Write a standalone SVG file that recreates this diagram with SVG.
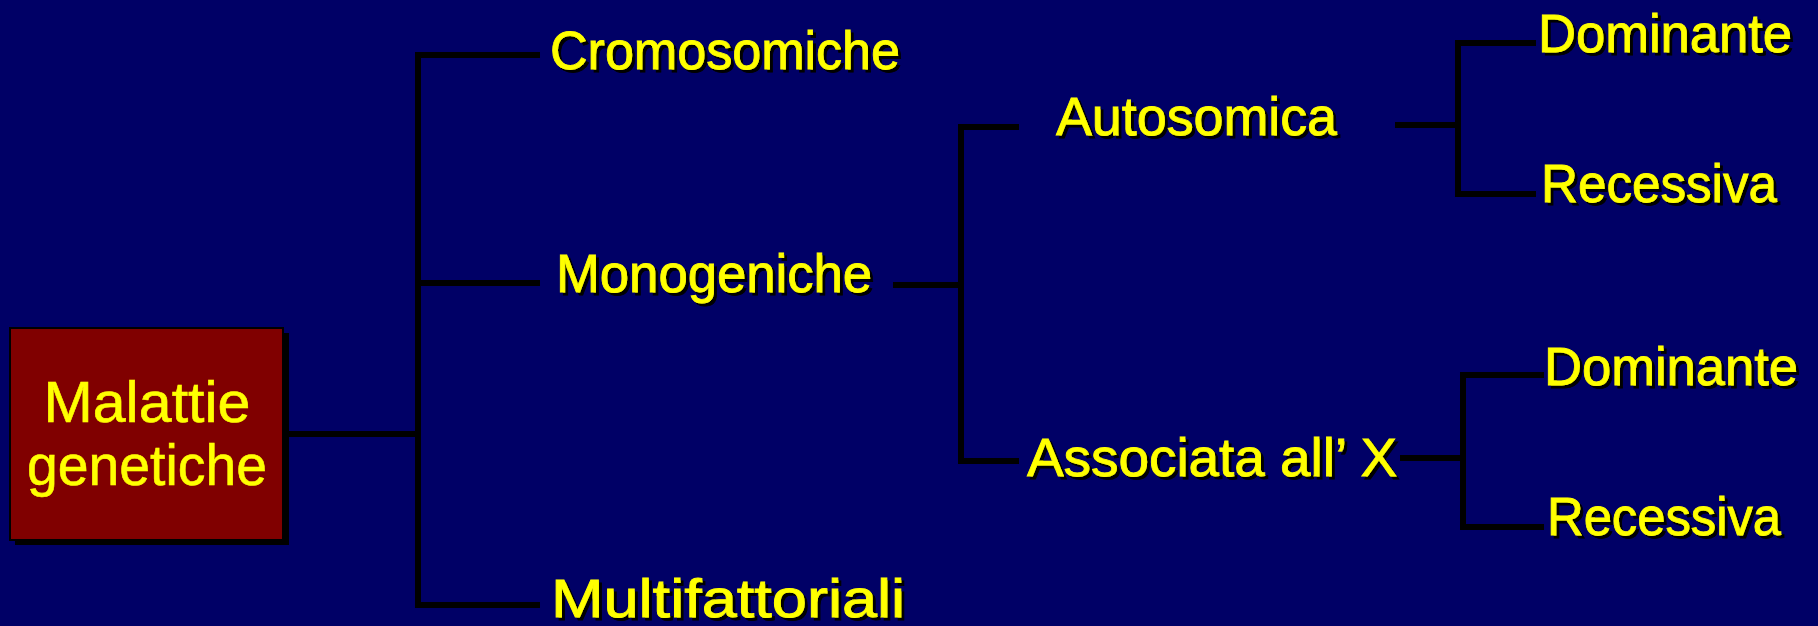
<svg xmlns="http://www.w3.org/2000/svg" width="1818" height="626" viewBox="0 0 1818 626">
<defs>
<filter id="sh" x="-5%" y="-20%" width="115%" height="150%">
<feDropShadow dx="3" dy="3" stdDeviation="0.4" flood-color="#000" flood-opacity="1"/>
</filter>
<style>
.lbl{font-family:"Liberation Sans","Noto Sans",sans-serif;font-size:53px;fill:#ffff00;stroke:#ffff00;stroke-width:0.8;filter:url(#sh)}
.box{font-family:"Liberation Sans","Noto Sans",sans-serif;font-size:57px;fill:#ffff00;stroke:#ffff00;stroke-width:0.6;text-anchor:middle}
.c{stroke:#000;stroke-width:6;fill:none;stroke-linecap:square}
</style>
</defs>
<rect width="1818" height="626" fill="#000066"/>
<g id="connectors">
<path class="c" d="M283 434H418M418 55V605M418 55H537M418 283H537M418 605H537"/>
<path class="c" d="M896 285H961M961 127V461M961 127H1016M961 461H1016"/>
<path class="c" d="M1398 125H1458M1458 43V194M1458 43H1533M1458 194H1533"/>
<path class="c" d="M1403 458H1463M1463 375V527M1463 375H1541M1463 527H1541"/>
</g>
<g id="root">
<rect x="15" y="333" width="274" height="212" fill="#000"/>
<rect x="10" y="328" width="273" height="212" fill="#800000" stroke="#000" stroke-width="2"/>
<text class="box" x="147" y="422" textLength="207" lengthAdjust="spacingAndGlyphs">Malattie</text>
<text class="box" x="147" y="485" textLength="240" lengthAdjust="spacingAndGlyphs">genetiche</text>
</g>
<g id="cromosomiche"><text class="lbl" x="550" y="69" textLength="350" lengthAdjust="spacingAndGlyphs">Cromosomiche</text></g>
<g id="monogeniche"><text class="lbl" x="556" y="292" textLength="316" lengthAdjust="spacingAndGlyphs">Monogeniche</text></g>
<g id="multifattoriali"><text class="lbl" x="551" y="617" textLength="354" lengthAdjust="spacingAndGlyphs">Multifattoriali</text></g>
<g id="autosomica"><text class="lbl" x="1056" y="135" textLength="281" lengthAdjust="spacingAndGlyphs">Autosomica</text></g>
<g id="associata"><text class="lbl" x="1027" y="476" textLength="370" lengthAdjust="spacingAndGlyphs">Associata all’ X</text></g>
<g id="dominante1"><text class="lbl" x="1538" y="52" textLength="254" lengthAdjust="spacingAndGlyphs">Dominante</text></g>
<g id="recessiva1"><text class="lbl" x="1541" y="202" textLength="236" lengthAdjust="spacingAndGlyphs">Recessiva</text></g>
<g id="dominante2"><text class="lbl" x="1544" y="385" textLength="254" lengthAdjust="spacingAndGlyphs">Dominante</text></g>
<g id="recessiva2"><text class="lbl" x="1547" y="535" textLength="234" lengthAdjust="spacingAndGlyphs">Recessiva</text></g>
</svg>
